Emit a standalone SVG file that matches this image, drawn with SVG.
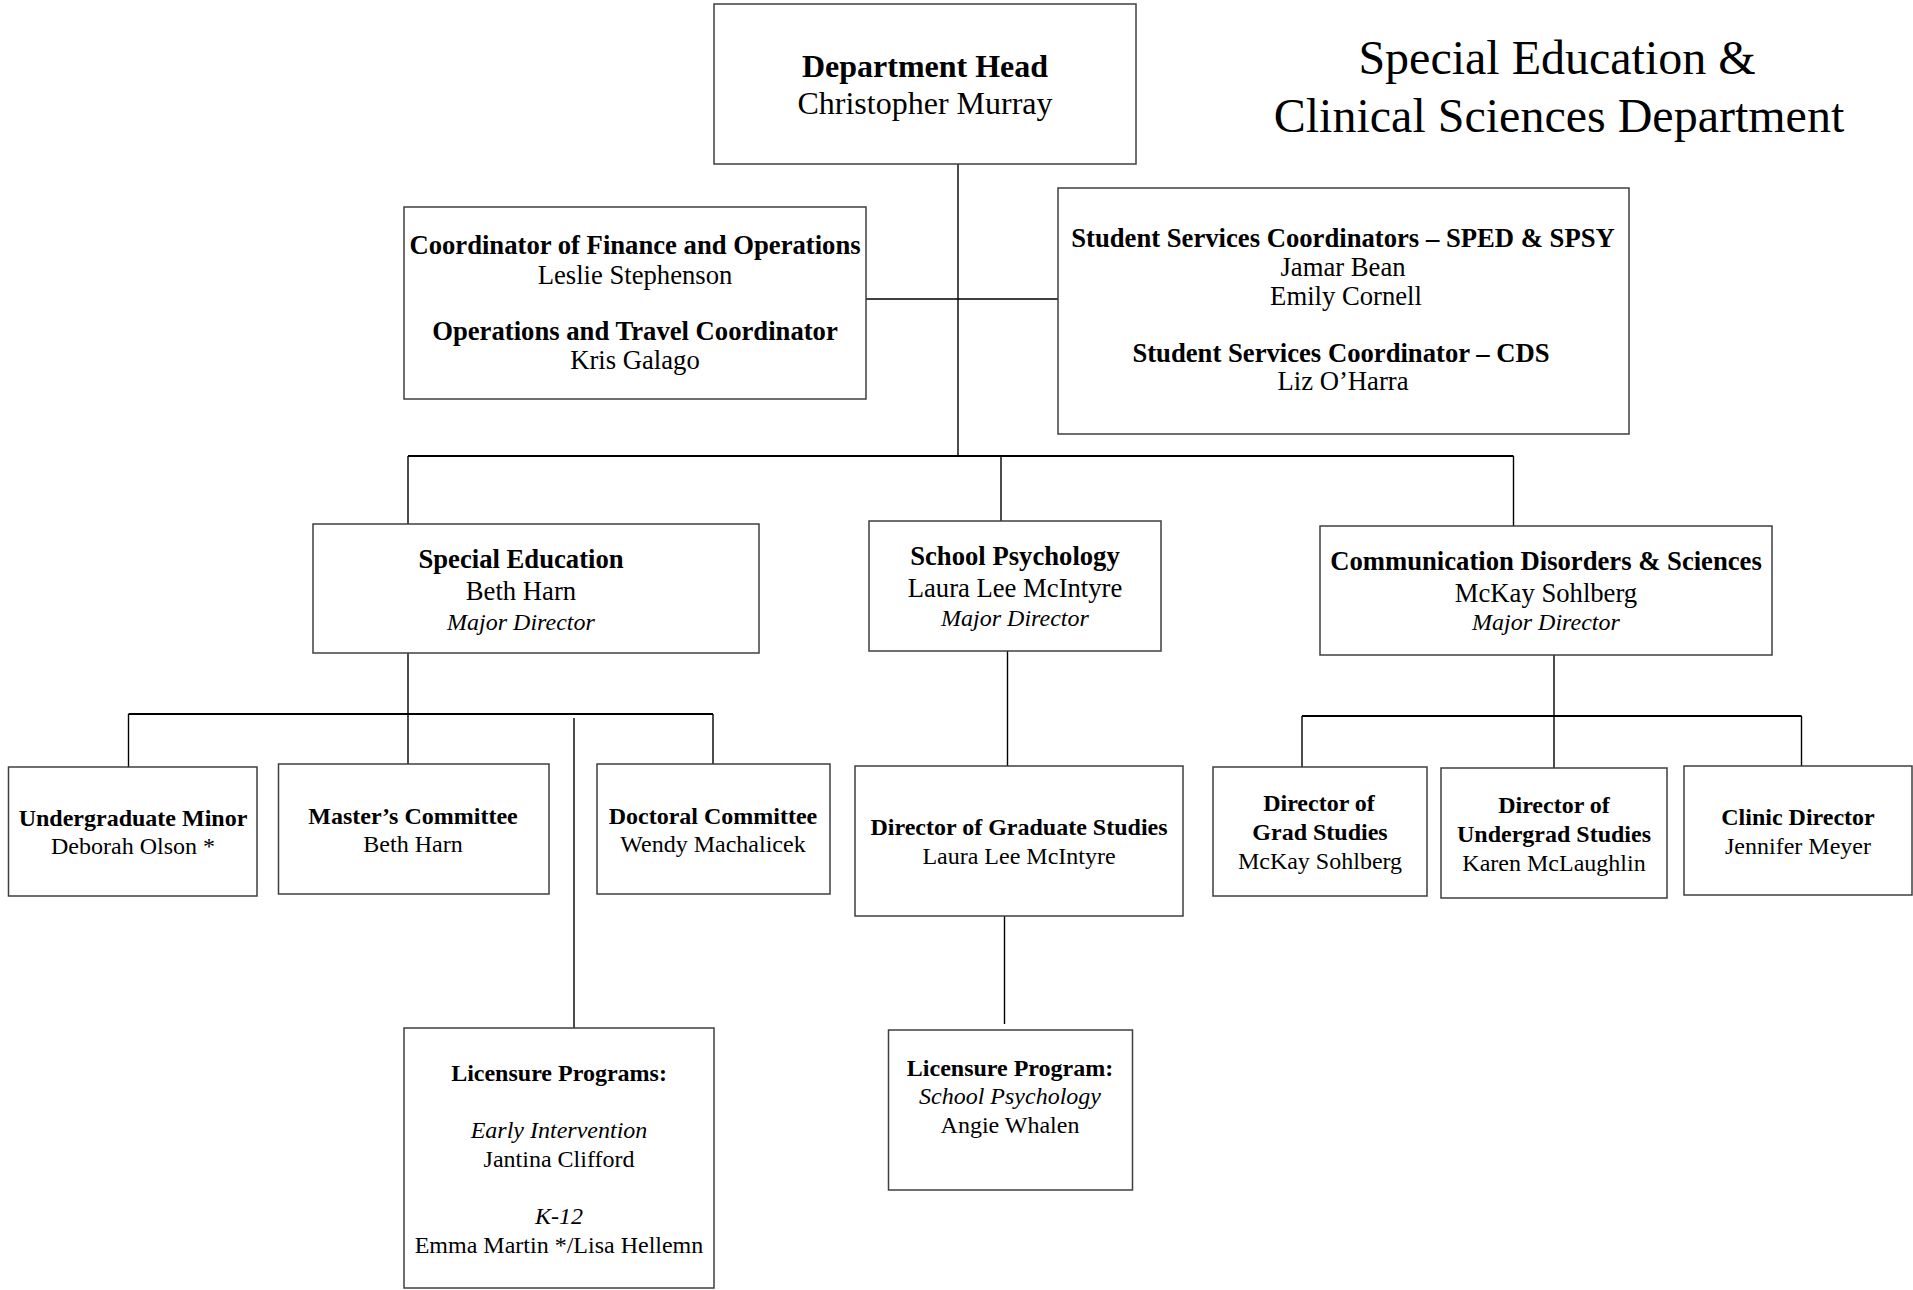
<svg xmlns="http://www.w3.org/2000/svg" width="1913" height="1290" viewBox="0 0 1913 1290">
<style>
  .box { fill: #ffffff; stroke: #3f3f3f; stroke-width: 1.5; }
  .edge { fill: none; stroke: #000000; stroke-width: 1.4; }
  .bar { fill: none; stroke: #000000; stroke-width: 2; }
  text { font-family: "Liberation Serif", "Times New Roman", serif; fill: #000000; text-anchor: middle; font-size: 26.67px; }
  .b { font-weight: bold; }
  .i { font-style: italic; }
  .s { font-size: 24px; }
  .big { font-size: 32px; }
  .title { font-size: 48px; }
</style>
<rect x="0" y="0" width="1913" height="1290" fill="#ffffff"/>

<g id="title">
  <text class="title" x="1557" y="74">Special Education &amp;</text>
  <text class="title" x="1559" y="132">Clinical Sciences Department</text>
</g>

<g id="connectors">
  <line class="edge" x1="958" y1="164" x2="958" y2="456"/>
  <line class="edge" x1="866" y1="299" x2="1058" y2="299"/>
  <line class="bar" x1="408" y1="456" x2="1513.5" y2="456"/>
  <line class="edge" x1="408" y1="456" x2="408" y2="524"/>
  <line class="edge" x1="1001" y1="456" x2="1001" y2="521"/>
  <line class="edge" x1="1513.5" y1="456" x2="1513.5" y2="526"/>
  <line class="edge" x1="408" y1="653" x2="408" y2="764"/>
  <line class="bar" x1="128.5" y1="714" x2="713" y2="714"/>
  <line class="edge" x1="128.5" y1="714" x2="128.5" y2="767"/>
  <line class="edge" x1="713" y1="714" x2="713" y2="764"/>
  <line class="edge" x1="574" y1="718" x2="574" y2="1028"/>
  <line class="edge" x1="1007.5" y1="651" x2="1007.5" y2="766"/>
  <line class="edge" x1="1004.5" y1="916" x2="1004.5" y2="1024"/>
  <line class="edge" x1="1554" y1="655" x2="1554" y2="768"/>
  <line class="bar" x1="1302" y1="716" x2="1801.5" y2="716"/>
  <line class="edge" x1="1302" y1="716" x2="1302" y2="767"/>
  <line class="edge" x1="1801.5" y1="716" x2="1801.5" y2="766"/>
</g>

<g id="dept-head">
  <rect class="box" x="714" y="4" width="422" height="160"/>
  <text class="b big" x="925" y="77">Department Head</text>
  <text class="big" x="925" y="114">Christopher Murray</text>
</g>

<g id="finance">
  <rect class="box" x="404" y="207" width="462" height="192"/>
  <text class="b" x="635" y="254">Coordinator of Finance and Operations</text>
  <text x="635" y="284">Leslie Stephenson</text>
  <text class="b" x="635" y="340">Operations and Travel Coordinator</text>
  <text x="635" y="369">Kris Galago</text>
</g>

<g id="student-services">
  <rect class="box" x="1058" y="188" width="571" height="246"/>
  <text class="b" x="1343" y="246.5">Student Services Coordinators – SPED &amp; SPSY</text>
  <text x="1343" y="275.5">Jamar Bean</text>
  <text x="1346" y="304.5">Emily Cornell</text>
  <text class="b" x="1341" y="361.5">Student Services Coordinator – CDS</text>
  <text x="1343" y="389.5">Liz O’Harra</text>
</g>

<g id="special-education">
  <rect class="box" x="313" y="524" width="446" height="129"/>
  <text class="b" x="521" y="568">Special Education</text>
  <text x="521" y="600">Beth Harn</text>
  <text class="i s" x="521" y="630">Major Director</text>
</g>

<g id="school-psychology">
  <rect class="box" x="869" y="521" width="292" height="130"/>
  <text class="b" x="1015" y="565">School Psychology</text>
  <text x="1015" y="597">Laura Lee McIntyre</text>
  <text class="i s" x="1015" y="626">Major Director</text>
</g>

<g id="cds">
  <rect class="box" x="1320" y="526" width="452" height="129"/>
  <text class="b" x="1546" y="570">Communication Disorders &amp; Sciences</text>
  <text x="1546" y="602">McKay Sohlberg</text>
  <text class="i s" x="1546" y="630">Major Director</text>
</g>

<g id="undergrad-minor">
  <rect class="box" x="8.5" y="767" width="248.5" height="129"/>
  <text class="b s" x="133" y="826">Undergraduate Minor</text>
  <text class="s" x="133" y="854">Deborah Olson *</text>
</g>

<g id="masters-committee">
  <rect class="box" x="278.5" y="764" width="270.5" height="130"/>
  <text class="b s" x="413" y="824">Master’s Committee</text>
  <text class="s" x="413" y="852">Beth Harn</text>
</g>

<g id="doctoral-committee">
  <rect class="box" x="597" y="764" width="233" height="130"/>
  <text class="b s" x="713" y="824">Doctoral Committee</text>
  <text class="s" x="713" y="852">Wendy Machalicek</text>
</g>

<g id="sp-grad-studies">
  <rect class="box" x="855" y="766" width="328" height="150"/>
  <text class="b s" x="1019" y="834.5">Director of Graduate Studies</text>
  <text class="s" x="1019" y="863.5">Laura Lee McIntyre</text>
</g>

<g id="cds-grad-studies">
  <rect class="box" x="1213" y="767" width="214" height="129"/>
  <text class="b s" x="1319" y="811">Director of</text>
  <text class="b s" x="1320" y="840">Grad Studies</text>
  <text class="s" x="1320" y="869">McKay Sohlberg</text>
</g>

<g id="cds-undergrad-studies">
  <rect class="box" x="1441" y="768" width="226" height="130"/>
  <text class="b s" x="1554" y="813">Director of</text>
  <text class="b s" x="1554" y="842">Undergrad Studies</text>
  <text class="s" x="1554" y="871">Karen McLaughlin</text>
</g>

<g id="clinic-director">
  <rect class="box" x="1684" y="766" width="228" height="129"/>
  <text class="b s" x="1798" y="825">Clinic Director</text>
  <text class="s" x="1798" y="853.5">Jennifer Meyer</text>
</g>

<g id="sped-licensure">
  <rect class="box" x="404" y="1028" width="310" height="260"/>
  <text class="b s" x="559" y="1081">Licensure Programs:</text>
  <text class="i s" x="559" y="1138">Early Intervention</text>
  <text class="s" x="559" y="1167">Jantina Clifford</text>
  <text class="i s" x="559" y="1224">K-12</text>
  <text class="s" x="559" y="1253">Emma Martin */Lisa Hellemn</text>
</g>

<g id="sp-licensure">
  <rect class="box" x="888.5" y="1030" width="244" height="160"/>
  <text class="b s" x="1010" y="1076">Licensure Program:</text>
  <text class="i s" x="1010" y="1104">School Psychology</text>
  <text class="s" x="1010" y="1133">Angie Whalen</text>
</g>
</svg>
